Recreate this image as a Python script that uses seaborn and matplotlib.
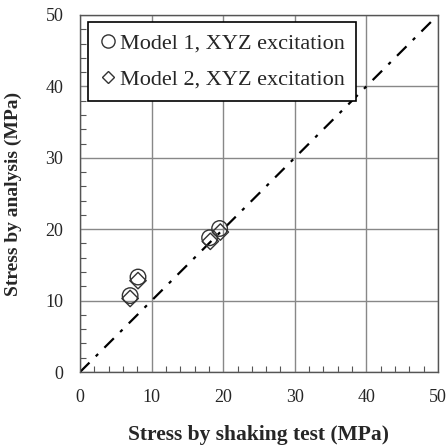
import matplotlib
matplotlib.use("Agg")
import matplotlib.pyplot as plt
import seaborn as sns
import pandas as pd
from matplotlib.ticker import MultipleLocator
from matplotlib.lines import Line2D

# Data
m1_test = [7.0, 8.1, 18.1, 19.5]
m1_analysis = [10.7, 13.3, 18.8, 20.1]
m2_test = [7.0, 8.1, 18.2, 19.6]
m2_analysis = [10.3, 12.8, 18.3, 19.6]
diag = [0, 50]

sns.set_style("white")
plt.rcParams["font.family"] = ["Liberation Serif", "DejaVu Serif"]

fig = plt.figure(figsize=(4.48, 4.48), dpi=100)
ax = fig.add_axes([0.1786, 0.1696, 0.799, 0.797])

df1 = pd.DataFrame({"x": m1_test, "y": m1_analysis})
df2 = pd.DataFrame({"x": m2_test, "y": m2_analysis})

ax.plot(diag, diag, color="black", lw=1.6, linestyle=(0, (6, 4, 1.5, 4)), zorder=2)
sns.scatterplot(data=df1, x="x", y="y", marker="o", s=125, facecolor="none",
                edgecolor="#333333", linewidth=1.0, ax=ax, zorder=3)
sns.scatterplot(data=df2, x="x", y="y", marker="D", s=70, facecolor="none",
                edgecolor="#333333", linewidth=1.0, ax=ax, zorder=3)

ax.set_xlim(0, 50)
ax.set_ylim(0, 50)
ax.xaxis.set_major_locator(MultipleLocator(10))
ax.yaxis.set_major_locator(MultipleLocator(10))
ax.xaxis.set_minor_locator(MultipleLocator(2))
ax.yaxis.set_minor_locator(MultipleLocator(2))
ax.tick_params(which="major", direction="in", length=0, labelsize=13, pad=12)
ax.tick_params(which="minor", direction="in", length=4, width=0.8, color="#555555",
               bottom=True, left=True)
ax.grid(True, which="major", color="#888888", lw=1.0)
for s in ax.spines.values():
    s.set_color("#555555")
    s.set_linewidth(1.0)

ax.set_xlabel("Stress by shaking test (MPa)", fontsize=15.5, fontweight="bold", labelpad=14)
ax.set_ylabel("Stress by analysis (MPa)", fontsize=14, fontweight="bold", labelpad=17)

handles = [
    Line2D([], [], marker="o", linestyle="none", markerfacecolor="none",
           markeredgecolor="#333333", markersize=9.5),
    Line2D([], [], marker="D", linestyle="none", markerfacecolor="none",
           markeredgecolor="#333333", markersize=6.5),
]
leg = ax.legend(handles, ["Model 1, XYZ excitation", "Model 2, XYZ excitation"],
                loc="upper left", bbox_to_anchor=(0.022, 0.98), fontsize=16,
                frameon=True, fancybox=False, handletextpad=0.15, handlelength=0.8,
                borderpad=0.5, labelspacing=0.7, borderaxespad=0)
leg.get_frame().set_edgecolor("black")
leg.get_frame().set_linewidth(1.2)
leg.get_frame().set_alpha(1)

fig.savefig("out.png", dpi=100)
